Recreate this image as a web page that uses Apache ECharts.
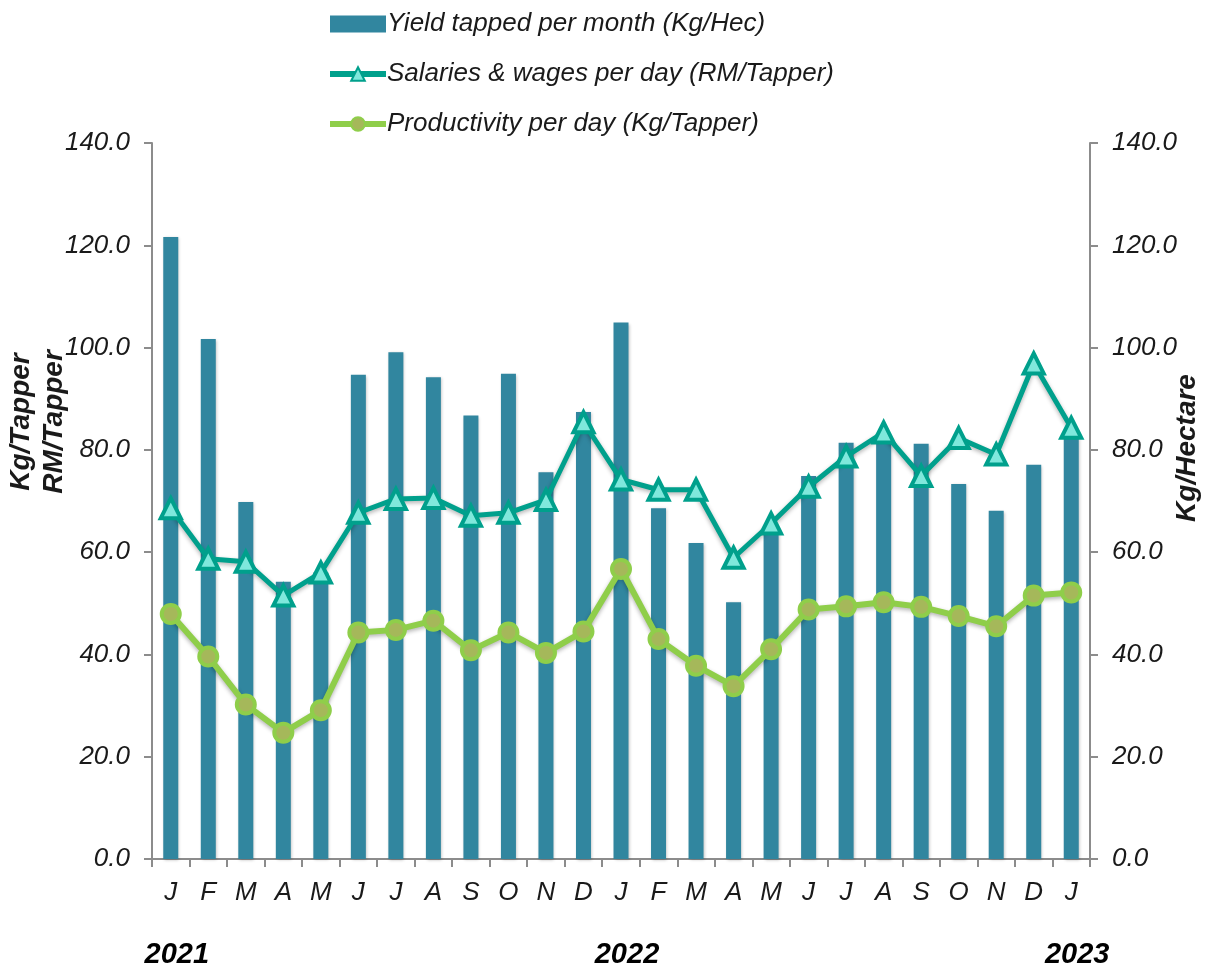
<!DOCTYPE html>
<html><head><meta charset="utf-8">
<script src="https://cdn.jsdelivr.net/npm/echarts@6/dist/echarts.min.js"></script>
<style>html,body{margin:0;padding:0;background:#fff}#c{width:1208px;height:972px}</style>
</head><body><div id="c"></div>
<script>
const months = ['J','F','M','A','M','J','J','A','S','O','N','D','J','F','M','A','M','J','J','A','S','O','N','D','J'];
const years = {0:'2021',12:'2022',24:'2023'};
const yieldTapped = [121.6,101.7,69.8,54.2,56.0,94.7,99.1,94.2,86.7,94.9,75.6,87.4,104.9,68.6,61.8,50.2,64.1,74.9,81.4,82.1,81.2,73.3,68.1,77.1,82.5];
const salaries = [68.6,58.7,58.1,51.5,56.0,67.7,70.4,70.6,67.1,67.7,70.2,85.4,74.2,72.2,72.2,58.9,65.6,72.8,78.7,83.4,74.9,82.3,79.1,96.9,84.3];
const productivity = [47.9,39.6,30.2,24.7,29.1,44.3,44.8,46.6,40.8,44.3,40.3,44.5,56.7,43.0,37.8,33.8,41.0,48.8,49.4,50.2,49.3,47.5,45.5,51.5,52.1];
const yTicks = {min:0,max:140,interval:20};

const font = 'Liberation Sans, Arial, sans-serif';
const txt = '#1a1a1a';
const chart = echarts.init(document.getElementById('c'));
const yAxisBase = {
  type:'value', min:yTicks.min, max:yTicks.max, interval:yTicks.interval,
  axisLine:{show:true,lineStyle:{color:'#8c8c8c',width:2}},
  axisTick:{show:true,length:8,lineStyle:{color:'#8c8c8c',width:2}},
  splitLine:{show:false},
  axisLabel:{formatter:v=>v.toFixed(1),fontFamily:font,fontStyle:'italic',fontSize:26,color:txt,margin:22},
  nameLocation:'middle', nameMoveOverlap:false,
  nameTextStyle:{fontFamily:font,fontStyle:'italic',fontWeight:'bold',fontSize:28,color:txt,lineHeight:33}
};
chart.setOption({
  animation:false,
  textStyle:{fontFamily:font},
  grid:{left:152,right:118,top:143,bottom:113,containLabel:false,outerBoundsMode:'none'},
  legend:{
    orient:'vertical',left:322,top:6,itemGap:24,itemWidth:56,itemHeight:17,
    textStyle:{fontFamily:font,fontStyle:'italic',fontSize:26,color:txt,padding:[0,0,0,-4]},
    data:[
      {name:'Yield tapped per month (Kg/Hec)',icon:'rect',itemStyle:{color:'#31869f'}},
      {name:'Salaries & wages per day (RM/Tapper)',lineStyle:{width:6,color:'#00a08c'}},
      {name:'Productivity per day (Kg/Tapper)',lineStyle:{width:6,color:'#8fce4a'}}
    ]
  },
  xAxis:[{
    type:'category',data:months,
    axisLine:{lineStyle:{color:'#8c8c8c',width:2}},
    axisTick:{show:true,length:8,lineStyle:{color:'#8c8c8c',width:2}},
    axisLabel:{fontFamily:font,fontStyle:'italic',fontSize:26,color:txt,margin:21}
  },{
    type:'category',data:months,position:'bottom',offset:73,
    axisLine:{show:false},axisTick:{show:false},
    axisLabel:{interval:0,formatter:(v,i)=>years[i]||'',fontFamily:font,fontStyle:'italic',fontWeight:'bold',fontSize:29,color:'#000',padding:[0,0,0,12]}
  }],
  yAxis:[
    Object.assign({},yAxisBase,{position:'left',name:'Kg/Tapper\nRM/Tapper',nameGap:81,
      nameTextStyle:Object.assign({},yAxisBase.nameTextStyle,{padding:[0,0,0,158]})}),
    Object.assign({},yAxisBase,{position:'right',name:'Kg/Hectare',nameGap:81,
      nameTextStyle:Object.assign({},yAxisBase.nameTextStyle,{padding:[0,0,0,106]})})
  ],
  series:[
    {name:'Yield tapped per month (Kg/Hec)',type:'bar',yAxisIndex:1,data:yieldTapped,barWidth:15,
      itemStyle:{color:'#31869f',shadowColor:'rgba(0,0,0,0.25)',shadowBlur:3,shadowOffsetX:1,shadowOffsetY:1}},
    {name:'Salaries & wages per day (RM/Tapper)',type:'line',yAxisIndex:0,data:salaries,
      symbol:'triangle',symbolSize:20,
      lineStyle:{color:'#00a08c',width:5,shadowColor:'rgba(0,0,0,0.3)',shadowBlur:4,shadowOffsetY:2},
      itemStyle:{color:'#7fe8dc',borderColor:'#00a08c',borderWidth:4},z:3},
    {name:'Productivity per day (Kg/Tapper)',type:'line',yAxisIndex:0,data:productivity,
      symbol:'circle',symbolSize:18,
      lineStyle:{color:'#8fce4a',width:6,shadowColor:'rgba(0,0,0,0.3)',shadowBlur:4,shadowOffsetY:2},
      itemStyle:{color:'#a5b85a',borderColor:'#8fce4a',borderWidth:4},z:4}
  ]
});
</script></body></html>
